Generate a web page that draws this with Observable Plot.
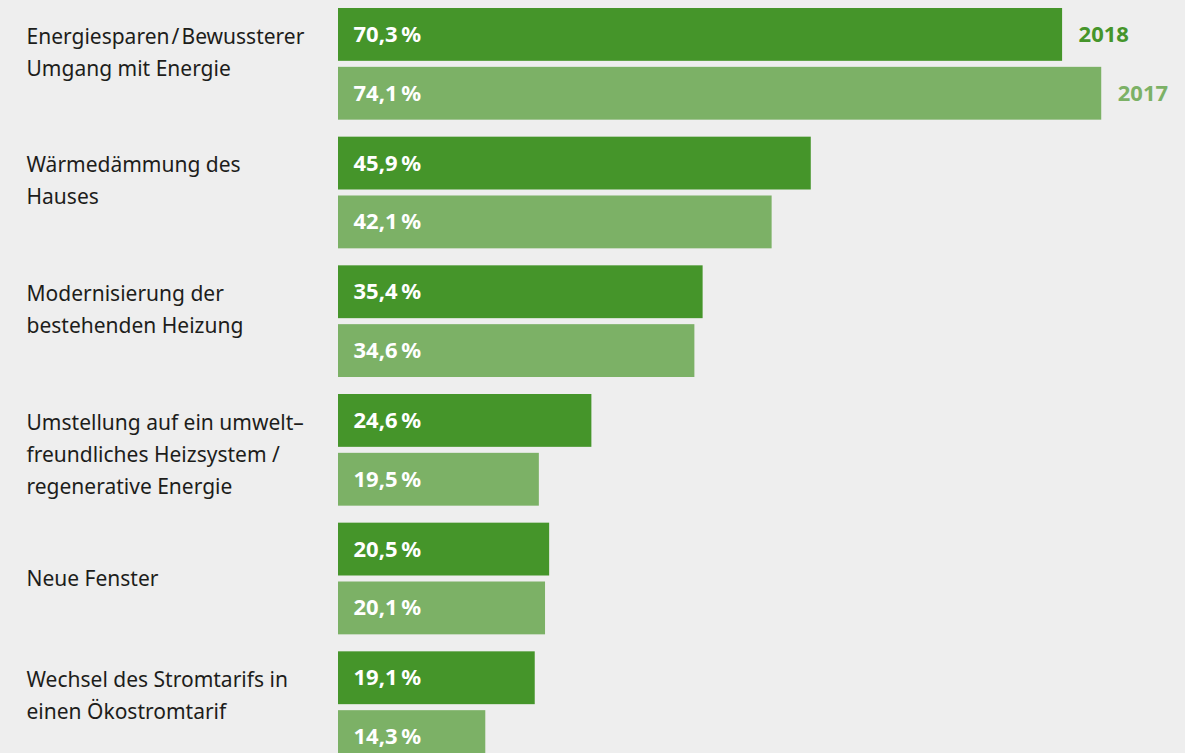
<!DOCTYPE html>
<html>
<head>
<meta charset="utf-8">
<script src="https://cdn.jsdelivr.net/npm/d3@7"></script>
<script src="https://cdn.jsdelivr.net/npm/@observablehq/plot@0.6"></script>
<style>
  html, body { margin: 0; padding: 0; background: #eeeeee; overflow: hidden; }
  #chart svg { display: block; background: #eeeeee; }
</style>
</head>
<body>
<div id="chart"></div>
<script>
const categories = [
  "Energiesparen\u200A/\u200ABewussterer\nUmgang mit Energie",
  "Wärmedämmung des\nHauses",
  "Modernisierung der\nbestehenden Heizung",
  "Umstellung auf ein umwelt–\nfreundliches Heizsystem /\nregenerative Energie",
  "Neue Fenster",
  "Wechsel des Stromtarifs in\neinen Ökostromtarif"
];
const years = ["2018", "2017"];
const values2018 = [70.3, 45.9, 35.4, 24.6, 20.5, 19.1];
const values2017 = [74.1, 42.1, 34.6, 19.5, 20.1, 14.3];
const colors = ["#45952a", "#7cb166"];

const data = [];
categories.forEach((c, i) => {
  data.push({category: c, year: years[0], value: values2018[i]});
  data.push({category: c, year: years[1], value: values2017[i]});
});
const catData = categories.map(c => ({category: c, lines: c.split("\n").length}));
const fmt = v => v.toFixed(1).replace(".", ",") + "\u2009%";
const font = "'Noto Sans', 'Open Sans', sans-serif";

const chart = Plot.plot({
  width: 1185,
  height: 770,
  marginLeft: 338,
  marginRight: 23,
  marginTop: 8,
  marginBottom: 7,
  style: {background: "#eeeeee", fontFamily: font},
  x: {domain: [0, 80], axis: null},
  y: {domain: years, paddingInner: 0.102, paddingOuter: 0, round: false, axis: null},
  fy: {domain: categories, paddingInner: 0.1322, paddingOuter: 0, round: false, axis: null},
  color: {domain: years, range: colors},
  marks: [
    Plot.barX(data, {x: "value", y: "year", fy: "category", fill: "year"}),
    Plot.text(data, {
      x: 0, y: "year", fy: "category", text: d => fmt(d.value),
      dx: 15, textAnchor: "start", fill: "white", fontWeight: "bold", fontSize: 22
    }),
    Plot.text(data.filter(d => d.category === categories[0]), {
      x: "value", y: "year", fy: "category", text: "year",
      dx: 16, textAnchor: "start", fill: "year", fontWeight: "bold", fontSize: 22
    }),
    Plot.text(catData.filter(d => d.lines > 1), {
      fy: "category", y: () => years[0], text: "category",
      frameAnchor: "left", dx: -312, dy: -14, textAnchor: "start", lineAnchor: "top",
      lineHeight: 1.524, fill: "#1d1d1b", fontSize: 21
    }),
    Plot.text(catData.filter(d => d.lines === 1), {
      fy: "category", text: "category",
      frameAnchor: "left", dx: -312, textAnchor: "start", lineAnchor: "middle",
      fill: "#1d1d1b", fontSize: 21
    })
  ]
});
document.getElementById("chart").appendChild(chart);
</script>
</body>
</html>
